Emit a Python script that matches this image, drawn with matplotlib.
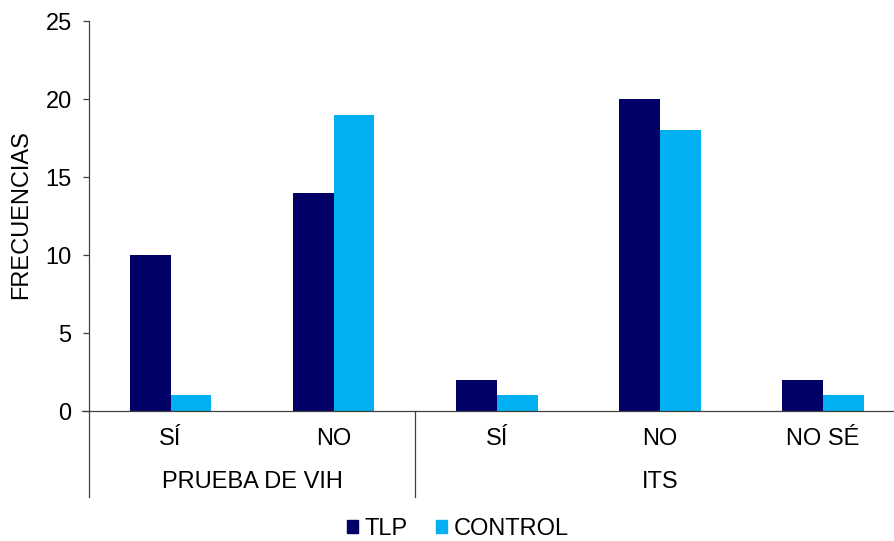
import matplotlib
matplotlib.use("Agg")
import matplotlib.pyplot as plt
from matplotlib.patches import Patch
import numpy as np

plt.rcParams['font.family'] = ['Liberation Sans', 'DejaVu Sans']

categories = ["SÍ", "NO", "SÍ", "NO", "NO SÉ"]
groups = ["PRUEBA DE VIH", "ITS"]
group_sizes = [2, 3]
tlp = [10, 14, 2, 20, 2]
control = [1, 19, 1, 18, 1]
series_names = ["TLP", "CONTROL"]
yticks = [0, 5, 10, 15, 20, 25]

c_tlp = "#000066"
c_ctrl = "#00B0F0"
axis_col = "#404040"
fs = 17

W, H = 894, 541
fig = plt.figure(figsize=(W / 100, H / 100), dpi=100)
ax = fig.add_axes([89 / W, 1 - 411 / H, 815.5 / W, 390 / H])

x = np.arange(len(categories))
bw = 0.25
ax.bar(x + 0.5 - bw / 2, tlp, width=bw, color=c_tlp, label=series_names[0])
ax.bar(x + 0.5 + bw / 2, control, width=bw, color=c_ctrl, label=series_names[1])

ax.set_xlim(0, len(categories))
ax.set_ylim(0, 25)
ax.set_yticks(yticks)
ax.set_xticks([])
ax.tick_params(axis='y', length=4.5, width=0.9, color=axis_col, labelsize=fs, pad=8)
for s in ['top', 'right']:
    ax.spines[s].set_visible(False)
for s in ['left', 'bottom']:
    ax.spines[s].set_color(axis_col)
    ax.spines[s].set_linewidth(0.9)

# extend baseline slightly to the left like a zero tick
ax.plot([-0.045, 0], [0, 0], color=axis_col, lw=0.9, clip_on=False,
        transform=ax.get_xaxis_transform())

trans = ax.get_xaxis_transform()
for i, c in enumerate(categories):
    ax.text(i + 0.5, -0.072, c, ha='center', va='center', fontsize=fs, transform=trans)

start = 0
ax.plot([0, 0], [0, -0.22], color=axis_col, lw=0.9, clip_on=False, transform=trans)
for g, n in zip(groups, group_sizes):
    ax.text(start + n / 2, -0.182, g, ha='center', va='center', fontsize=fs, transform=trans)
    start += n
    ax.plot([start, start], [0, -0.22], color=axis_col, lw=0.9, clip_on=False, transform=trans)

fig.text(21 / W, 1 - 215 / H, "FRECUENCIAS", rotation=90, ha='center', va='center', fontsize=fs)

handles = [Patch(color=c_tlp, label=series_names[0]), Patch(color=c_ctrl, label=series_names[1])]
fig.legend(handles=handles, loc='center', bbox_to_anchor=(458 / W, 1 - 529 / H), ncol=2,
           frameon=False, fontsize=fs, handlelength=0.45, handleheight=0.5,
           handletextpad=0.3, columnspacing=1.2, borderpad=0)

fig.savefig("out.png", dpi=100)
